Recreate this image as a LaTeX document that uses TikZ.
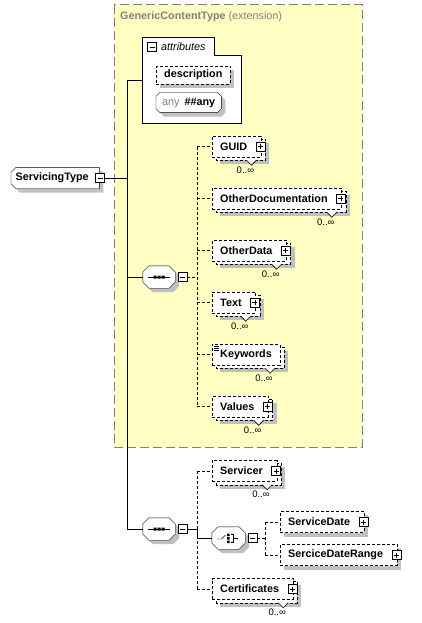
\documentclass[tikz,border=0pt]{standalone}
\usepackage{fontspec}
\setmainfont{Liberation Sans}
\AtBeginDocument{\fontsize{10.8}{13}\selectfont}
\usetikzlibrary{shadows}
\pgfdeclarelayer{background}
\pgfdeclarelayer{behind}
\pgfsetlayers{background,behind,main}
\definecolor{extfill}{RGB}{255,255,196}
\definecolor{extline}{RGB}{128,128,128}
\definecolor{shadowgray}{RGB}{192,192,192}
\tikzstyle{shade}=[drop shadow={shadow xshift=4pt, shadow yshift=-4pt,
  fill=shadowgray, opacity=1}]
\tikzstyle{elem}=[draw, dash pattern=on 3pt off 2pt, fill=white, anchor=west,
  minimum height=21pt, inner xsep=8pt, inner ysep=0pt, font=\bfseries]
\tikzstyle{single}=[elem, shade]
\tikzstyle{card}=[font=\fontsize{9.5}{11}\selectfont, inner sep=0pt]
\tikzstyle{compositor}=[minimum width=32pt, minimum height=22pt, inner sep=0pt]
\tikzstyle{minusbox}=[draw, fill=white, minimum size=9pt, inner sep=0pt,
  path picture={\draw ([xshift=2pt]path picture bounding box.west) --
    ([xshift=-2pt]path picture bounding box.east);}]
\tikzstyle{plusbox}=[draw, fill=white, minimum size=9pt, inner sep=0pt,
  path picture={\draw ([xshift=2pt]path picture bounding box.west) --
    ([xshift=-2pt]path picture bounding box.east);
    \draw ([yshift=-2pt]path picture bounding box.north) --
    ([yshift=2pt]path picture bounding box.south);}]
\tikzstyle{link}=[draw]
\tikzstyle{optlink}=[draw, dash pattern=on 3pt off 2pt]
\newcommand{\childelem}[2]{node (#1) [elem] {#2\kern6pt}}
\newcommand{\leafelem}[2]{node (#1) [elem] {#2}}
\newcommand{\plus}[1]{\path ([xshift=-1pt]#1.east) node (#1plus) [plusbox] {};}
% octagon outline round a node, #2 is the cut of the corners
\newcommand{\octagon}[2]{%
  \begin{pgfonlayer}{behind}
    \path[draw, fill=white, shade] ([xshift=#2]#1.north west)
      -- ([xshift=-#2]#1.north east) -- ([yshift=-#2]#1.north east)
      -- ([yshift=#2]#1.south east) -- ([xshift=-#2]#1.south east)
      -- ([xshift=#2]#1.south west) -- ([yshift=#2]#1.south west)
      -- ([yshift=-#2]#1.north west) -- cycle;
  \end{pgfonlayer}}
\newcommand{\repeated}[1]{%
  \begin{pgfonlayer}{behind}
    % shadow of the stacked copy
    \path[fill=shadowgray] ([shift={(8,7)}]#1.north west)
      rectangle ([shift={(8,7)}]#1.south east);
    % stacked copy behind the element
    \path[draw, dash pattern=on 3pt off 2pt, fill=white]
      ([shift={(4,3)}]#1.north west) rectangle ([shift={(4,3)}]#1.south east);
    \path[draw, fill=white, line width=0.6pt] ([shift={(-15,3)}]#1.south east)
      -- ([shift={(-10,8)}]#1.south east) -- ([shift={(-5,3)}]#1.south east);
  \end{pgfonlayer}
  \path ([shift={(-16,13)}]#1.south east) node (#1card) [card] {0..∞};}

\begin{document}
\begin{tikzpicture}[x=1pt, y=-1pt, line width=0.9pt]
  \useasboundingbox (0,0) rectangle (421,623);

  % extension area and attributes block
  \begin{pgfonlayer}{background}
    \path[fill=extfill, draw=extline, dash pattern=on 9pt off 4pt, line width=1pt]
      (114,5) rectangle (362,447);
    \draw[fill=white] (142,123) -- (142,37) -- (214,37) -- (214,55) -- (241,55)
      -- (241,123) -- cycle;
  \end{pgfonlayer}
  \node (exttitle) [anchor=west, text=extline, inner sep=0pt] at (120,17)
    {\textbf{GenericContentType} (extension)};

  \node (attrminus) [minusbox] at (152,47) {};
  \node (attrtitle) [anchor=west, inner sep=0pt, font=\itshape] at (161,47) {attributes};
  \path (156,75) node (description) [single, minimum height=18pt, inner xsep=8pt] {description};
  \path (156,102.5) node (anyattr) [anchor=west, minimum height=20pt, inner xsep=6pt,
    inner ysep=0pt] {{\color{extline}any}\hspace{5pt}\textbf{\#\#any}};
  \octagon{anyattr}{4pt}
  \coordinate (attrin) at (142,80);

  % root element
  \path (11,178) node (ServicingType) [anchor=west, minimum width=88pt,
    minimum height=21pt, inner sep=0pt, font=\bfseries] {ServicingType\kern6pt};
  \begin{pgfonlayer}{behind}
    \path[draw, fill=white, shade] ([xshift=5pt]ServicingType.north west)
      -- (ServicingType.north east) -- (ServicingType.south east)
      -- ([xshift=5pt]ServicingType.south west) -- ([yshift=5pt]ServicingType.south west)
      -- ([yshift=-5pt]ServicingType.north west) -- cycle;
  \end{pgfonlayer}
  \path (100,178) node (STminus) [minusbox] {};

  % first sequence
  \path (159,277) node (seqA) [compositor] {};
  \octagon{seqA}{6pt}
  \path (seqA.east)+(7,0) node (seqAminus) [minusbox] {};
  \path (212,146.5) \childelem{GUID}{GUID};
  \path (GUID.west)+(0,52) \childelem{OtherDocumentation}{OtherDocumentation};
  \path (OtherDocumentation.west)+(0,52) \childelem{OtherData}{OtherData};
  \path (OtherData.west)+(0,52) \childelem{Text}{Text};
  \path (Text.west)+(0,52) \leafelem{Keywords}{Keywords};
  \path (Keywords.west)+(0,52) \childelem{Values}{Values};
  \plus{GUID}\plus{OtherDocumentation}\plus{OtherData}\plus{Text}\plus{Values}
  \repeated{GUID}\repeated{OtherDocumentation}\repeated{OtherData}
  \repeated{Text}\repeated{Keywords}\repeated{Values}
  \draw[line width=0.6pt] ([shift={(2,2)}]Keywords.north west) -- +(5,0)
    ([shift={(2,4)}]Keywords.north west) -- +(5,0)
    ([shift={(2,6)}]Keywords.north west) -- +(5,0);

  % second sequence
  \path (159,529) node (seqB) [compositor] {};
  \octagon{seqB}{6pt}
  \path (seqB.east)+(7,0) node (seqBminus) [minusbox] {};
  \path (212,471) \childelem{Servicer}{Servicer};
  \path (228.5,538) node (choice) [compositor, minimum width=33pt] {};
  \octagon{choice}{6pt}
  \path (choice.east)+(7,0) node (choiceminus) [minusbox] {};
  \path (212,589) \childelem{Certificates}{Certificates};
  \path (280,522) \childelem{ServiceDate}{ServiceDate};
  \path (ServiceDate.west)+(0,33) \childelem{SerciceDateRange}{SerciceDateRange};
  \plus{Servicer}\plus{Certificates}\plus{ServiceDate}\plus{SerciceDateRange}
  \repeated{Servicer}\repeated{Certificates}
  \begin{pgfonlayer}{behind}
    \path[fill=shadowgray] ([shift={(4,4)}]ServiceDate.north west)
      rectangle ([shift={(4,4)}]ServiceDate.south east);
    \path[fill=shadowgray] ([shift={(4,4)}]SerciceDateRange.north west)
      rectangle ([shift={(4,4)}]SerciceDateRange.south east);
  \end{pgfonlayer}

  % compositor symbols
  \draw ([xshift=-11]seqA.center) -- ([xshift=11]seqA.center);
  \fill ([shift={(-5.5,-1.5)}]seqA.center) rectangle +(3,3)
    ([shift={(-1.5,-1.5)}]seqA.center) rectangle +(3,3)
    ([shift={(2.5,-1.5)}]seqA.center) rectangle +(3,3);
  \draw ([xshift=-11]seqB.center) -- ([xshift=11]seqB.center);
  \fill ([shift={(-5.5,-1.5)}]seqB.center) rectangle +(3,3)
    ([shift={(-1.5,-1.5)}]seqB.center) rectangle +(3,3)
    ([shift={(2.5,-1.5)}]seqB.center) rectangle +(3,3);
  \draw ([shift={(-12,1)}]choice.center) -- ([shift={(-7,1)}]choice.center)
    -- ([shift={(-3,-3)}]choice.center);
  \fill ([shift={(-1.5,-4.5)}]choice.center) rectangle +(2.5,2.5)
    ([shift={(-1.5,-1)}]choice.center) rectangle +(2.5,2.5)
    ([shift={(-1.5,2.5)}]choice.center) rectangle +(2.5,2.5);
  \draw ([shift={(2,-3.5)}]choice.center) -- ([shift={(4.5,-3.5)}]choice.center)
    -- ([shift={(4.5,4)}]choice.center) -- ([shift={(2,4)}]choice.center)
    ([shift={(4.5,0.5)}]choice.center) -- ([shift={(9,0.5)}]choice.center);

  % Draw connectors between elements
  \coordinate (trunk) at (127,178);
  \coordinate (busA) at (197,277);
  \coordinate (busB) at (197,529);
  \coordinate (busC) at (265,538);
  \path [link] (STminus.east) -- (trunk);
  \path [link] (attrin) -- (trunk |- attrin) -- (trunk |- seqB.west) -- (seqB.west);
  \path [link] (trunk |- seqA.west) -- (seqA.west);

  \path [optlink] (seqAminus.east) -- (busA);
  \path [optlink] (busA |- GUID.west) -- (busA |- Values.west);
  \path [optlink] (busA |- GUID.west) -- (GUID.west);
  \path [optlink] (busA |- OtherDocumentation.west) -- (OtherDocumentation.west);
  \path [optlink] (busA |- OtherData.west) -- (OtherData.west);
  \path [optlink] (busA |- Text.west) -- (Text.west);
  \path [optlink] (busA |- Keywords.west) -- (Keywords.west);
  \path [optlink] (busA |- Values.west) -- (Values.west);

  \path [optlink] (busB |- Servicer.west) -- (busB |- Certificates.west);
  \path [optlink] (busB |- Servicer.west) -- (Servicer.west);
  \path [optlink] (busB |- Certificates.west) -- (Certificates.west);
  \path [link] (seqBminus.east) -- (busB) -- (busB |- choice.west) -- (choice.west);

  \path [optlink] (choiceminus.east) -- (busC);
  \path [optlink] (busC |- ServiceDate.west) -- (busC |- SerciceDateRange.west);
  \path [optlink] (busC |- ServiceDate.west) -- (ServiceDate.west);
  \path [optlink] (busC |- SerciceDateRange.west) -- (SerciceDateRange.west);

\end{tikzpicture}
\end{document}
